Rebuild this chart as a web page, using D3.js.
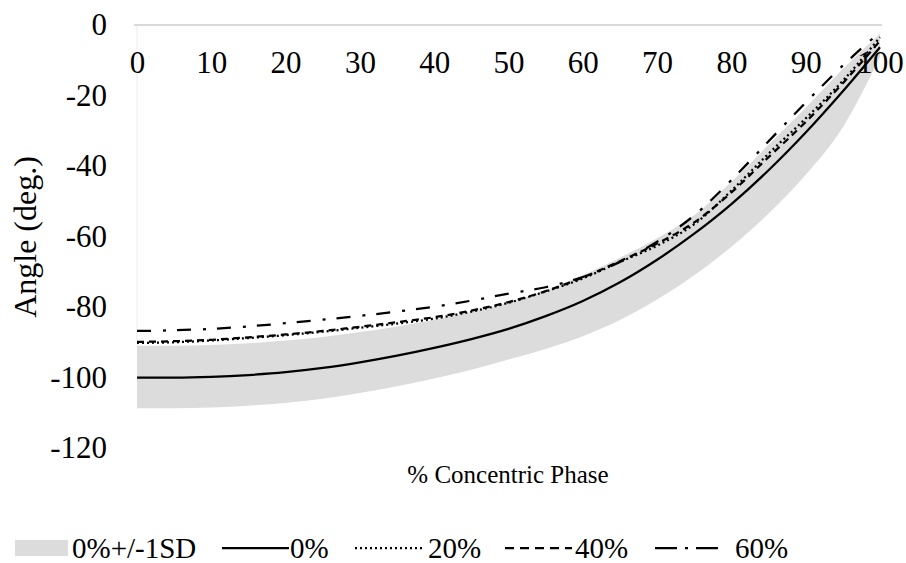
<!DOCTYPE html>
<html>
<head>
<meta charset="utf-8">
<script src="https://cdn.jsdelivr.net/npm/d3@7"></script>
<style>
  svg text { font-family: "Liberation Serif" !important; }
</style>
</head>
<body style="margin:0">
<div id="chart"></div>
<script>
const FONT = 'Liberation Serif';

// % of concentric phase
const pct = [0, 5, 10, 15, 20, 25, 30, 35, 40, 45, 50, 55, 60, 65, 70, 75, 80, 85, 90, 95, 100];

// 0% mean and its +/-1SD band
const mean0 = [-100, -100, -99.8, -99.3, -98.5, -97.3, -95.7, -93.8, -91.6, -89.1, -86.2, -82.6, -78.3, -73, -66.6, -59.2, -50.8, -41.2, -30.5, -18.8, -6.3];
const sdUpper = [-91, -91, -90.8, -90.3, -89.5, -88.5, -87.1, -85.5, -83.6, -81.4, -78.7, -75.3, -71, -66, -60.5, -54, -44.5, -34, -23.5, -12.5, -2.5];
const sdLower = [-108.7, -108.7, -108.5, -108, -107.2, -106, -104.4, -102.5, -100.3, -97.8, -94.9, -91.9, -88.3, -83.7, -77.9, -71, -62.9, -53.5, -42.5, -29, -9];

const load20 = [-90.2, -90, -89.5, -88.8, -88, -87, -85.9, -84.7, -83.3, -81.3, -78.8, -75.6, -71.9, -67.2, -62.6, -56.5, -47, -36.5, -26.5, -15.8, -3.5];
const load40 = [-89.9, -89.7, -89.3, -88.6, -87.8, -86.8, -85.6, -84.3, -82.9, -81, -78.6, -75.5, -71.6, -67, -62, -56, -47.5, -37.5, -27.5, -16.5, -4.5];
const load60 = [-86.8, -86.6, -86.2, -85.5, -84.6, -83.6, -82.5, -81.3, -79.9, -78.2, -76.2, -74.4, -71.5, -67.2, -61.5, -54, -44, -33, -22, -11.5, -2];

const xTicks = [0, 10, 20, 30, 40, 50, 60, 70, 80, 90, 100];
const yTicks = [0, -20, -40, -60, -80, -100, -120];

const width = 906, height = 563;

const svg = d3.select('#chart')
    .append('svg')
    .attr('width', width)
    .attr('height', height);

const x = d3.scaleLinear().domain([0, 100]).range([137, 880]);
const y = d3.scaleLinear().domain([-120, 0]).range([448, 25]);

// band
const area = d3.area()
    .x((d, i) => x(pct[i]))
    .y0((d, i) => y(sdLower[i]))
    .y1((d, i) => y(sdUpper[i]))
    .curve(d3.curveMonotoneX);

svg.append('path')
    .datum(pct)
    .attr('d', area)
    .attr('fill', '#dcdcdc');

// faint vertical axis line and the zero line
svg.append('line')
    .attr('x1', x(0)).attr('x2', x(0))
    .attr('y1', y(0)).attr('y2', y(sdUpper[0]))
    .attr('stroke', '#ececec')
    .attr('stroke-width', 1);

svg.append('line')
    .attr('x1', x(0) - 3).attr('x2', x(100) + 2)
    .attr('y1', y(0)).attr('y2', y(0))
    .attr('stroke', '#d9d9d9')
    .attr('stroke-width', 2);

// axes
const xAxis = svg.append('g')
    .attr('transform', 'translate(0,' + y(0) + ')')
    .call(d3.axisBottom(x).tickValues(xTicks).tickSize(0).tickPadding(26).tickFormat((d) => String(d)))
    .attr('font-family', FONT);
xAxis.select('.domain').remove();
xAxis.selectAll('text').attr('font-size', 31).attr('fill', '#000').attr('font-family', FONT);

const yAxis = svg.append('g')
    .attr('transform', 'translate(' + x(0) + ',0)')
    .call(d3.axisLeft(y).tickValues(yTicks).tickSize(0).tickPadding(30).tickFormat((d) => String(d)))
    .attr('font-family', FONT);
yAxis.select('.domain').remove();
yAxis.selectAll('text').attr('font-size', 31).attr('fill', '#000').attr('font-family', FONT);

// series lines
const series = [
    { name: '0%', values: mean0, dash: null },
    { name: '20%', values: load20, dash: '2,3' },
    { name: '40%', values: load40, dash: '7,5' },
    { name: '60%', values: load60, dash: '14,12,3,11' },
];

const line = d3.line()
    .x((d, i) => x(pct[i]))
    .y((d) => y(d))
    .curve(d3.curveMonotoneX);

series.forEach((s) => {
    svg.append('path')
        .datum(s.values)
        .attr('d', line)
        .attr('fill', 'none')
        .attr('stroke', '#000')
        .attr('stroke-width', 2.25)
        .attr('stroke-dasharray', s.dash);
});

// axis titles
svg.append('text')
    .attr('x', 508)
    .attr('y', 483)
    .attr('text-anchor', 'middle')
    .attr('font-size', 25)
    .attr('font-family', FONT)
    .text('% Concentric Phase');

svg.append('text')
    .attr('transform', 'translate(36,237) rotate(-90)')
    .attr('text-anchor', 'middle')
    .attr('font-size', 32)
    .attr('font-family', FONT)
    .text('Angle (deg.)');

// legend
const legendY = 548;
const legend = svg.append('g');

legend.append('rect')
    .attr('x', 15).attr('y', legendY - 8)
    .attr('width', 53).attr('height', 16)
    .attr('fill', '#dcdcdc');
legend.append('text')
    .attr('x', 72).attr('y', legendY + 10)
    .attr('font-size', 29)
    .attr('font-family', FONT)
    .text('0%+/-1SD');

const legendLines = [
    { label: '0%', x0: 222, dash: null },
    { label: '20%', x0: 355, dash: '2,3' },
    { label: '40%', x0: 505, dash: '9,6' },
    { label: '60%', x0: 655, dash: '22,8,3,8' },
];
const legendText = [290, 428, 575, 735];

legendLines.forEach((d, i) => {
    legend.append('line')
        .attr('x1', d.x0).attr('x2', d.x0 + 67)
        .attr('y1', legendY).attr('y2', legendY)
        .attr('stroke', '#000')
        .attr('stroke-width', 2.25)
        .attr('stroke-dasharray', d.dash);
    legend.append('text')
        .attr('x', legendText[i]).attr('y', legendY + 10)
        .attr('font-size', 29)
        .attr('font-family', FONT)
        .text(d.label);
});
</script>
</body>
</html>
